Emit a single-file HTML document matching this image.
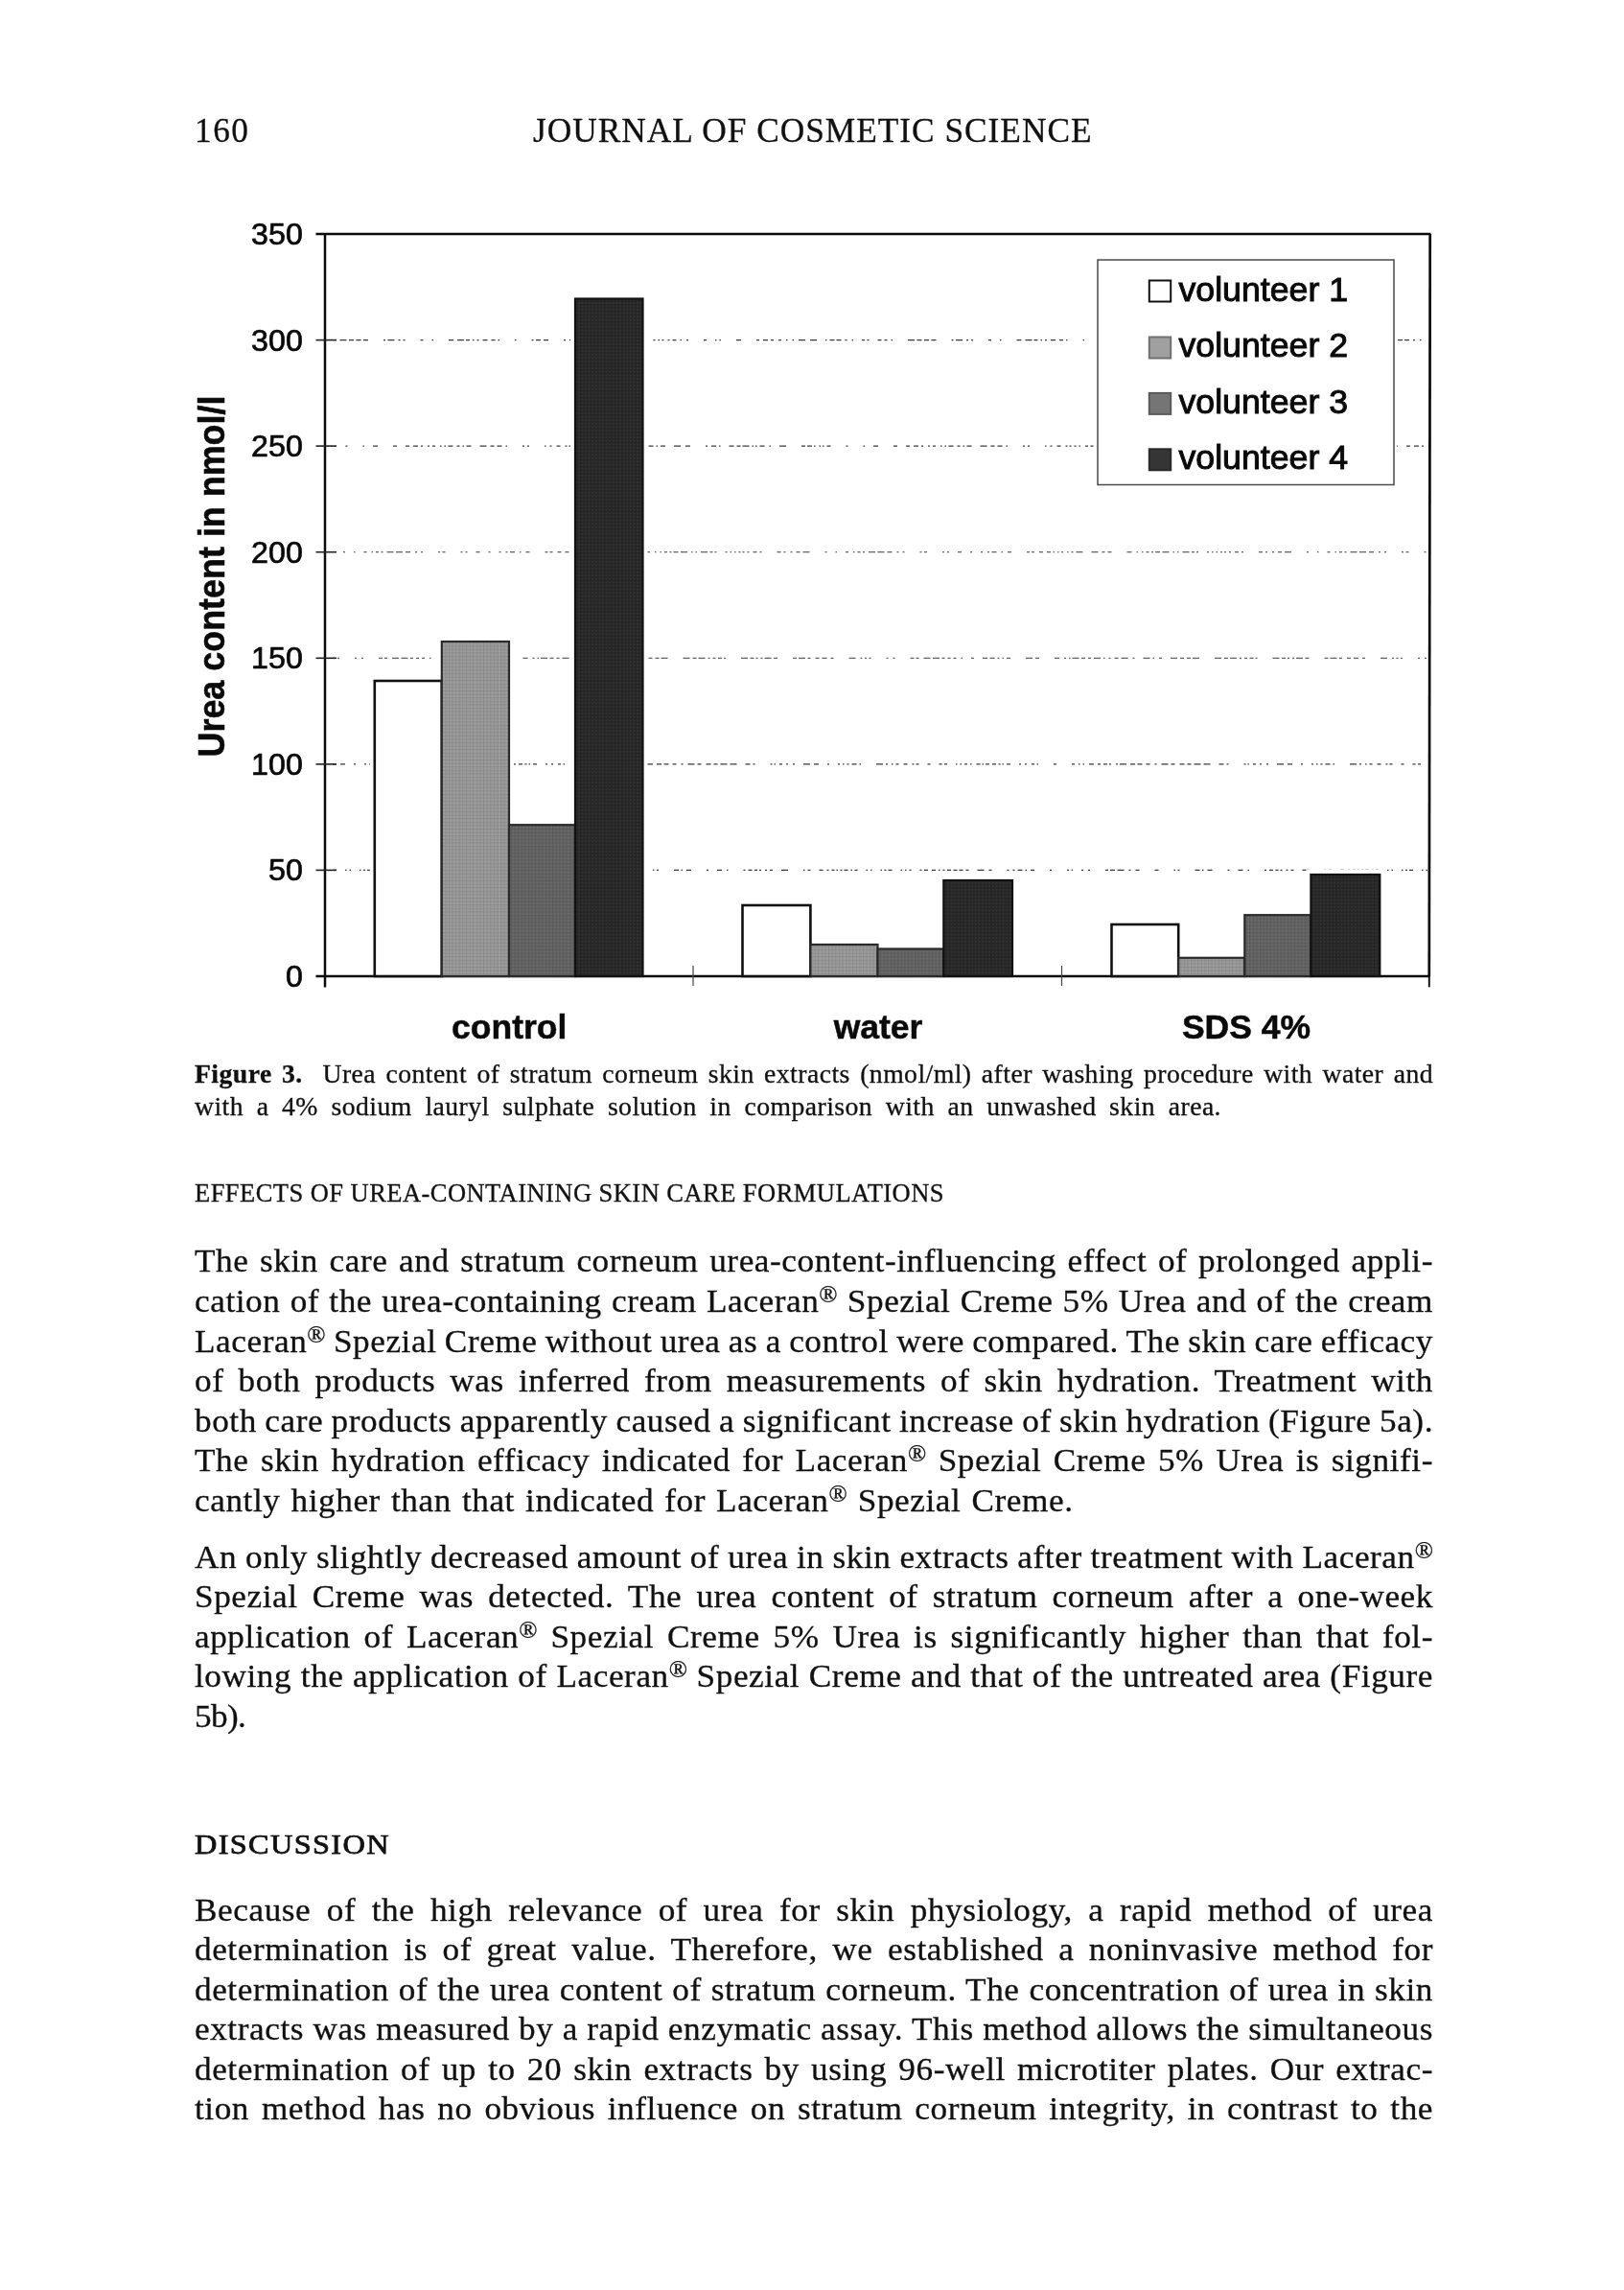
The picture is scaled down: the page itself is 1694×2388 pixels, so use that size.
<!DOCTYPE html>
<html><head><meta charset="utf-8"><title>Journal of Cosmetic Science p.160</title>
<style>
html,body{margin:0;padding:0;background:#fff;}
body{width:1694px;height:2388px;overflow:hidden;}
#page{position:absolute;left:0;top:0;width:1694px;height:2388px;background:#fff;overflow:hidden;font-family:"Liberation Serif",serif;color:#111;filter:grayscale(1) blur(0.45px);}
svg{position:absolute;left:0;top:0;}
.l{-webkit-text-stroke:0.3px #111;position:absolute;white-space:nowrap;line-height:1;transform-origin:0 50%;font-family:"Liberation Serif",serif;}
.r{font-size:0.72em;vertical-align:0.4em;line-height:0;letter-spacing:0;}
.ds{font-weight:normal;-webkit-text-stroke:0.75px #111;}
</style></head><body><div id="page">
<svg width="1694" height="2388" viewBox="0 0 1694 2388">
<line x1="347.0" y1="907.4" x2="1491.3" y2="907.4" stroke="#3a3a3a" stroke-width="1.1" stroke-dasharray="2 3 3 2 1.5 2.5 2 2 4 3 1.5 2.5 3 9 1.5 3 1.5 9 1.5 2.5 2 2 4 9 1.5 3 1.5 3 2 9 2 2.5 4 4 4 3 1.5 3 2 2.5 4 2.5 4 2 4 3 3 9 7 5 3 16 2 4 2 3 5 3 1.5 4 4 16 2 16 2 2.5 1.5 9 2 5 2 16 3 2 5 2.5 7 5 2 5 4 16 4 16 1.5 2.5 2 16 5 2.5 1.5 4 5 16 2 9 5 5 1.5 16 2 3 4 2.5 3 2 2 4 2 3 3 9 7 16 1.5 3 3 9 4 4" stroke-dashoffset="28"/>
<line x1="347.0" y1="796.9" x2="1491.3" y2="796.9" stroke="#3a3a3a" stroke-width="1.1" stroke-dasharray="2 9 7 4 5 9 2 9 2 3 1.5 3 2 3 5 3 1.5 16 7 3 2 4 1.5 3 3 5 4 5 2 2 3 9 3 9 3 2.5 3 9 1.5 3 1.5 3 3 3 1.5 5 4 2 1.5 2 4 3 4 2.5 2 2 1.5 3 4 9 2 4 2 5 3 2.5 1.5 16 3 16 3 4 1.5 3 1.5 5 5 4 3 3 4 2 2 5 2 2 7 4 5 2.5 5 4 4 5 2 5 7 3 4 5 5 3 4 3 7 3 7 9 5 3 2 16 2 2 1.5 4 3 4 2 5" stroke-dashoffset="14"/>
<line x1="347.0" y1="686.3" x2="1491.3" y2="686.3" stroke="#3a3a3a" stroke-width="1.1" stroke-dasharray="7 5 2 2.5 2 2.5 2 16 2 5 2 16 4 2 3 5 7 2.5 7 2.5 3 3 3 3 3 5 1.5 9 3 9 5 2.5 5 3 2 3 1.5 3 4 16 7 3 4 16 5 5 2 3 1.5 2 7 2.5 4 3 3 3 7 3 1.5 4 2 4 4 3 7 5 2 9 7 3 1.5 5 3 9 7 3 4 3 4 2 7 16 7 3 4 2 7 3 2 3 3 2.5 4 2 2 16 7 2.5 4 2 2 3 2 2 7 2.5 4 16 4 2 7 2.5 3 5 4 3 5 4 3 16" stroke-dashoffset="16"/>
<line x1="347.0" y1="575.7" x2="1491.3" y2="575.7" stroke="#3a3a3a" stroke-width="1.1" stroke-dasharray="2 4 4 3 7 16 2 9 1.5 9 3 5 1.5 3 3 2.5 2 4 7 2.5 7 3 5 5 2 4 2 16 2 2.5 3 16 2 3 2 9 4 9 2 9 2 5 2 2.5 5 5 1.5 5 4 16 3 2 3 5 4 4 4 2.5 1.5 3 1.5 2.5 2 4 1.5 3 2 3 7 9 7 4 3 3 4 16 5 5 1.5 4 1.5 3 3 2.5 2 2 5 2.5 7 4 1.5 3 1.5 4 7 2.5 3 2 2 9 2 3 1.5 3 1.5 3 2 2 2 3 2 4 4 3 2 16 4 3 2 5" stroke-dashoffset="25"/>
<line x1="347.0" y1="465.1" x2="1491.3" y2="465.1" stroke="#3a3a3a" stroke-width="1.1" stroke-dasharray="1.5 4 1.5 2 1.5 3 4 16 2 16 1.5 9 5 16 4 9 4 4 5 3 2 5 2 3 3 5 1.5 3 1.5 2.5 5 4 3 3 1.5 2.5 5 9 7 4 4 3 5 4 1.5 16 2 3 2 16 1.5 4 2 5 4 5 2 2 2 3 2 3 1.5 5 3 2.5 3 4 4 3 2 2 1.5 4 7 2.5 2 9 4 2 3 2 2 4 5 3 1.5 3 5 9 7 5 5 16 2 4 5 3 1.5 9 5 3 4 2 7 3 1.5 2 1.5 3 5 5 1.5 9 7 16 4 2 5 2" stroke-dashoffset="20"/>
<line x1="347.0" y1="354.6" x2="1491.3" y2="354.6" stroke="#3a3a3a" stroke-width="1.1" stroke-dasharray="4 3 3 4 1.5 16 7 2.5 5 2.5 5 2.5 5 16 2 2.5 7 4 2 3 2 16 3 9 1.5 16 5 4 7 2 4 3 1.5 3 2 4 5 4 4 3 1.5 16 1.5 16 2 2.5 5 3 5 16 2 4 3 16 3 2.5 4 3 2 2.5 3 2 2 16 1.5 16 2 9 2 3 1.5 2.5 2 4 2 3 4 4 1.5 5 2 16 3 9 1.5 3 1.5 16 5 16 3 4 5 3 3 5 3 5 1.5 5 1.5 5 7 5 7 9 1.5 3 5 2 5 4 2 5 1.5 9 3 2.5 2 9" stroke-dashoffset="24"/>
<rect x="385.8" y="705.0" width="80.0" height="313.0" fill="#fff"/>
<rect x="455.8" y="664.0" width="80.2" height="354.0" fill="#fff"/>
<rect x="526.0" y="855.2" width="79.0" height="162.8" fill="#fff"/>
<rect x="595.0" y="306.5" width="80.5" height="711.5" fill="#fff"/>
<rect x="769.5" y="939.0" width="80.9" height="79.0" fill="#fff"/>
<rect x="840.4" y="980.0" width="80.1" height="38.0" fill="#fff"/>
<rect x="910.5" y="984.5" width="78.8" height="33.5" fill="#fff"/>
<rect x="979.3" y="913.0" width="81.7" height="105.0" fill="#fff"/>
<rect x="1154.5" y="959.0" width="79.7" height="59.0" fill="#fff"/>
<rect x="1224.2" y="993.8" width="79.1" height="24.2" fill="#fff"/>
<rect x="1293.3" y="949.2" width="79.1" height="68.8" fill="#fff"/>
<rect x="1362.4" y="907.0" width="81.9" height="111.0" fill="#fff"/>
<rect x="1142.0" y="268.0" width="315.0" height="240.5" fill="#fff"/>
<line x1="329.5" y1="244.0" x2="1492.5" y2="244.0" stroke="#0a0a0a" stroke-width="2.6"/>
<line x1="339.0" y1="244.0" x2="339.0" y2="1029.5" stroke="#0a0a0a" stroke-width="2.5"/>
<line x1="1491.7" y1="244.0" x2="1490.8" y2="1018.0" stroke="#0a0a0a" stroke-width="2.7"/>
<line x1="1490.8" y1="1018.0" x2="1490.8" y2="1029.3" stroke="#0a0a0a" stroke-width="1.9"/>
<line x1="329.5" y1="1018.0" x2="1491.3" y2="1018.0" stroke="#0a0a0a" stroke-width="2.4"/>
<line x1="329.5" y1="907.4" x2="351.0" y2="907.4" stroke="#222" stroke-width="1.6"/>
<line x1="329.5" y1="796.9" x2="351.0" y2="796.9" stroke="#222" stroke-width="1.6"/>
<line x1="329.5" y1="686.3" x2="351.0" y2="686.3" stroke="#222" stroke-width="1.6"/>
<line x1="329.5" y1="575.7" x2="351.0" y2="575.7" stroke="#222" stroke-width="1.6"/>
<line x1="329.5" y1="465.1" x2="351.0" y2="465.1" stroke="#222" stroke-width="1.6"/>
<line x1="329.5" y1="354.6" x2="351.0" y2="354.6" stroke="#222" stroke-width="1.6"/>
<line x1="723.0" y1="1007.0" x2="723.0" y2="1028.0" stroke="#444" stroke-width="1.2"/>
<line x1="1107.5" y1="1007.0" x2="1107.5" y2="1028.0" stroke="#444" stroke-width="1.2"/>
<defs><pattern id="mesh" width="3.6" height="3.6" patternUnits="userSpaceOnUse"><rect width="3.6" height="3.6" fill="none"/><rect width="3.6" height="0.9" fill="#000" fill-opacity="0.07"/><rect width="0.9" height="3.6" fill="#000" fill-opacity="0.07"/><rect x="1.8" y="1.8" width="1.8" height="1.8" fill="#fff" fill-opacity="0.05"/></pattern></defs>
<rect x="390.8" y="710.0" width="70.0" height="308.0" fill="#ffffff" stroke="#111" stroke-width="2.6"/>
<rect x="460.8" y="669.0" width="70.2" height="349.0" fill="#989898" stroke="#2a2a2a" stroke-width="2.2"/>
<rect x="461.9" y="670.1" width="68.0" height="346.8" fill="url(#mesh)"/>
<rect x="531.0" y="860.2" width="69.0" height="157.8" fill="#636363" stroke="#2a2a2a" stroke-width="2.2"/>
<rect x="532.1" y="861.3" width="66.8" height="155.6" fill="url(#mesh)"/>
<rect x="600.0" y="311.5" width="70.5" height="706.5" fill="#282828" stroke="#111" stroke-width="2.2"/>
<rect x="601.1" y="312.6" width="68.3" height="704.3" fill="url(#mesh)"/>
<rect x="774.5" y="944.0" width="70.9" height="74.0" fill="#ffffff" stroke="#111" stroke-width="2.6"/>
<rect x="845.4" y="985.0" width="70.1" height="33.0" fill="#989898" stroke="#2a2a2a" stroke-width="2.2"/>
<rect x="846.5" y="986.1" width="67.9" height="30.8" fill="url(#mesh)"/>
<rect x="915.5" y="989.5" width="68.8" height="28.5" fill="#636363" stroke="#2a2a2a" stroke-width="2.2"/>
<rect x="916.6" y="990.6" width="66.6" height="26.3" fill="url(#mesh)"/>
<rect x="984.3" y="918.0" width="71.7" height="100.0" fill="#282828" stroke="#111" stroke-width="2.2"/>
<rect x="985.4" y="919.1" width="69.5" height="97.8" fill="url(#mesh)"/>
<rect x="1159.5" y="964.0" width="69.7" height="54.0" fill="#ffffff" stroke="#111" stroke-width="2.6"/>
<rect x="1229.2" y="998.8" width="69.1" height="19.2" fill="#989898" stroke="#2a2a2a" stroke-width="2.2"/>
<rect x="1230.3" y="999.9" width="66.9" height="17.0" fill="url(#mesh)"/>
<rect x="1298.3" y="954.2" width="69.1" height="63.8" fill="#636363" stroke="#2a2a2a" stroke-width="2.2"/>
<rect x="1299.4" y="955.3" width="66.9" height="61.6" fill="url(#mesh)"/>
<rect x="1367.4" y="912.0" width="71.9" height="106.0" fill="#282828" stroke="#111" stroke-width="2.2"/>
<rect x="1368.5" y="913.1" width="69.7" height="103.8" fill="url(#mesh)"/>
<rect x="1145.0" y="271.0" width="309.0" height="234.5" fill="#fff" stroke="#4a4a4a" stroke-width="1.5"/>
<rect x="1198.8" y="292.5" width="22.4" height="22" fill="#fff" stroke="#111" stroke-width="2"/>
<text x="1229.5" y="314.0" font-family="Liberation Sans, sans-serif" font-size="35.7" fill="#0a0a0a" stroke="#0a0a0a" stroke-width="1.0">volunteer 1</text>
<rect x="1198.8" y="351.5" width="22.4" height="22" fill="#a0a0a0" stroke="#707070" stroke-width="2"/>
<text x="1229.5" y="372.2" font-family="Liberation Sans, sans-serif" font-size="35.7" fill="#0a0a0a" stroke="#0a0a0a" stroke-width="1.0">volunteer 2</text>
<rect x="1198.8" y="409.9" width="22.4" height="22" fill="#757575" stroke="#5a5a5a" stroke-width="2"/>
<text x="1229.5" y="430.6" font-family="Liberation Sans, sans-serif" font-size="35.7" fill="#0a0a0a" stroke="#0a0a0a" stroke-width="1.0">volunteer 3</text>
<rect x="1198.8" y="468.3" width="22.4" height="22" fill="#353535" stroke="#2a2a2a" stroke-width="2"/>
<text x="1229.5" y="489.0" font-family="Liberation Sans, sans-serif" font-size="35.7" fill="#0a0a0a" stroke="#0a0a0a" stroke-width="1.0">volunteer 4</text>
<text x="315.8" y="1028.9" text-anchor="end" font-family="Liberation Sans, sans-serif" font-size="32.2" fill="#0a0a0a" stroke="#0a0a0a" stroke-width="0.7">0</text>
<text x="315.8" y="918.3" text-anchor="end" font-family="Liberation Sans, sans-serif" font-size="32.2" fill="#0a0a0a" stroke="#0a0a0a" stroke-width="0.7">50</text>
<text x="315.8" y="807.8" text-anchor="end" font-family="Liberation Sans, sans-serif" font-size="32.2" fill="#0a0a0a" stroke="#0a0a0a" stroke-width="0.7">100</text>
<text x="315.8" y="697.2" text-anchor="end" font-family="Liberation Sans, sans-serif" font-size="32.2" fill="#0a0a0a" stroke="#0a0a0a" stroke-width="0.7">150</text>
<text x="315.8" y="586.6" text-anchor="end" font-family="Liberation Sans, sans-serif" font-size="32.2" fill="#0a0a0a" stroke="#0a0a0a" stroke-width="0.7">200</text>
<text x="315.8" y="476.0" text-anchor="end" font-family="Liberation Sans, sans-serif" font-size="32.2" fill="#0a0a0a" stroke="#0a0a0a" stroke-width="0.7">250</text>
<text x="315.8" y="365.5" text-anchor="end" font-family="Liberation Sans, sans-serif" font-size="32.2" fill="#0a0a0a" stroke="#0a0a0a" stroke-width="0.7">300</text>
<text x="315.8" y="254.9" text-anchor="end" font-family="Liberation Sans, sans-serif" font-size="32.2" fill="#0a0a0a" stroke="#0a0a0a" stroke-width="0.7">350</text>
<text x="531.2" y="1082.5" text-anchor="middle" font-family="Liberation Sans, sans-serif" font-weight="bold" font-size="35.5" fill="#0a0a0a" stroke="#0a0a0a" stroke-width="0.5">control</text>
<text x="916.0" y="1082.5" text-anchor="middle" font-family="Liberation Sans, sans-serif" font-weight="bold" font-size="35.5" fill="#0a0a0a" stroke="#0a0a0a" stroke-width="0.5">water</text>
<text x="1300.0" y="1082.5" text-anchor="middle" font-family="Liberation Sans, sans-serif" font-weight="bold" font-size="35.5" fill="#0a0a0a" stroke="#0a0a0a" stroke-width="0.5">SDS 4%</text>
<text transform="translate(233.5 789.5) rotate(-90) scale(1 1.08)" font-family="Liberation Sans, sans-serif" font-weight="bold" font-size="35.9" fill="#0a0a0a" stroke="#0a0a0a" stroke-width="0.5">Urea content in nmol/l</text>
</svg>
<div class="l " id="pg" style="left:203.0px;top:119.44px;font-size:35.3px;letter-spacing:1.523px;">160</div>
<div class="l " id="hd" style="left:556.0px;top:119.44px;font-size:35.3px;letter-spacing:0.995px;">JOURNAL OF COSMETIC SCIENCE</div>
<div class="l " id="c1" style="left:203.0px;top:1105.80px;font-size:27.7px;letter-spacing:0.450px;word-spacing:3.009px;"><b>Figure 3.</b>&nbsp; Urea content of stratum corneum skin extracts (nmol/ml) after washing procedure with water and</div>
<div class="l " id="c2" style="left:203.0px;top:1139.80px;font-size:27.7px;letter-spacing:0.450px;word-spacing:6.282px;">with a 4% sodium lauryl sulphate solution in comparison with an unwashed skin area.</div>
<div class="l " id="s1" style="left:203.0px;top:1230.81px;font-size:26.5px;letter-spacing:0.452px;">EFFECTS OF UREA-CONTAINING SKIN CARE FORMULATIONS</div>
<div class="l " id="a0" style="left:203.0px;top:1298.36px;font-size:34.2px;letter-spacing:0.550px;word-spacing:2.165px;transform:scaleX(1.0300);">The skin care and stratum corneum urea-content-influencing effect of prolonged appli-</div>
<div class="l " id="a1" style="left:203.0px;top:1340.06px;font-size:34.2px;letter-spacing:0.550px;word-spacing:0.825px;transform:scaleX(1.0300);">cation of the urea-containing cream Laceran<span class="r">®</span> Spezial Creme 5% Urea and of the cream</div>
<div class="l " id="a2" style="left:203.0px;top:1381.66px;font-size:34.2px;letter-spacing:0.550px;word-spacing:-1.033px;transform:scaleX(1.0300);">Laceran<span class="r">®</span> Spezial Creme without urea as a control were compared. The skin care efficacy</div>
<div class="l " id="a3" style="left:203.0px;top:1423.16px;font-size:34.2px;letter-spacing:0.550px;word-spacing:5.542px;transform:scaleX(1.0300);">of both products was inferred from measurements of skin hydration. Treatment with</div>
<div class="l " id="a4" style="left:203.0px;top:1464.66px;font-size:34.2px;letter-spacing:0.550px;word-spacing:-0.934px;transform:scaleX(1.0300);">both care products apparently caused a significant increase of skin hydration (Figure 5a).</div>
<div class="l " id="a5" style="left:203.0px;top:1506.36px;font-size:34.2px;letter-spacing:0.550px;word-spacing:3.026px;transform:scaleX(1.0300);">The skin hydration efficacy indicated for Laceran<span class="r">®</span> Spezial Creme 5% Urea is signifi-</div>
<div class="l " id="a6" style="left:203.0px;top:1547.96px;font-size:34.2px;letter-spacing:0.550px;word-spacing:1.650px;transform:scaleX(1.0300);">cantly higher than that indicated for Laceran<span class="r">®</span> Spezial Creme.</div>
<div class="l " id="b0" style="left:203.0px;top:1606.96px;font-size:34.2px;letter-spacing:0.550px;word-spacing:-0.420px;transform:scaleX(1.0300);">An only slightly decreased amount of urea in skin extracts after treatment with Laceran<span class="r">®</span></div>
<div class="l " id="b1" style="left:203.0px;top:1648.36px;font-size:34.2px;letter-spacing:0.550px;word-spacing:5.597px;transform:scaleX(1.0300);">Spezial Creme was detected. The urea content of stratum corneum after a one-week</div>
<div class="l " id="b2" style="left:203.0px;top:1689.76px;font-size:34.2px;letter-spacing:0.550px;word-spacing:4.394px;transform:scaleX(1.0300);">application of Laceran<span class="r">®</span> Spezial Creme 5% Urea is significantly higher than that fol-</div>
<div class="l " id="b3" style="left:203.0px;top:1731.36px;font-size:34.2px;letter-spacing:0.550px;word-spacing:0.210px;transform:scaleX(1.0300);">lowing the application of Laceran<span class="r">®</span> Spezial Creme and that of the untreated area (Figure</div>
<div class="l " id="b4" style="left:203.0px;top:1772.86px;font-size:34.2px;letter-spacing:-0.589px;transform:scaleX(1.0300);">5b).</div>
<div class="l ds" id="s2" style="left:203.0px;top:1909.38px;font-size:29.4px;letter-spacing:1.218px;transform:scaleX(1.1000);">DISCUSSION</div>
<div class="l " id="d0" style="left:203.0px;top:1974.86px;font-size:34.2px;letter-spacing:0.550px;word-spacing:6.899px;transform:scaleX(1.0300);">Because of the high relevance of urea for skin physiology, a rapid method of urea</div>
<div class="l " id="d1" style="left:203.0px;top:2016.36px;font-size:34.2px;letter-spacing:0.550px;word-spacing:5.945px;transform:scaleX(1.0300);">determination is of great value. Therefore, we established a noninvasive method for</div>
<div class="l " id="d2" style="left:203.0px;top:2057.86px;font-size:34.2px;letter-spacing:0.550px;word-spacing:0.554px;transform:scaleX(1.0300);">determination of the urea content of stratum corneum. The concentration of urea in skin</div>
<div class="l " id="d3" style="left:203.0px;top:2099.36px;font-size:34.2px;letter-spacing:0.550px;word-spacing:-0.002px;transform:scaleX(1.0300);">extracts was measured by a rapid enzymatic assay. This method allows the simultaneous</div>
<div class="l " id="d4" style="left:203.0px;top:2140.96px;font-size:34.2px;letter-spacing:0.550px;word-spacing:2.689px;transform:scaleX(1.0300);">determination of up to 20 skin extracts by using 96-well microtiter plates. Our extrac-</div>
<div class="l " id="d5" style="left:203.0px;top:2182.46px;font-size:34.2px;letter-spacing:0.550px;word-spacing:3.376px;transform:scaleX(1.0300);">tion method has no obvious influence on stratum corneum integrity, in contrast to the</div>
</div></body></html>
